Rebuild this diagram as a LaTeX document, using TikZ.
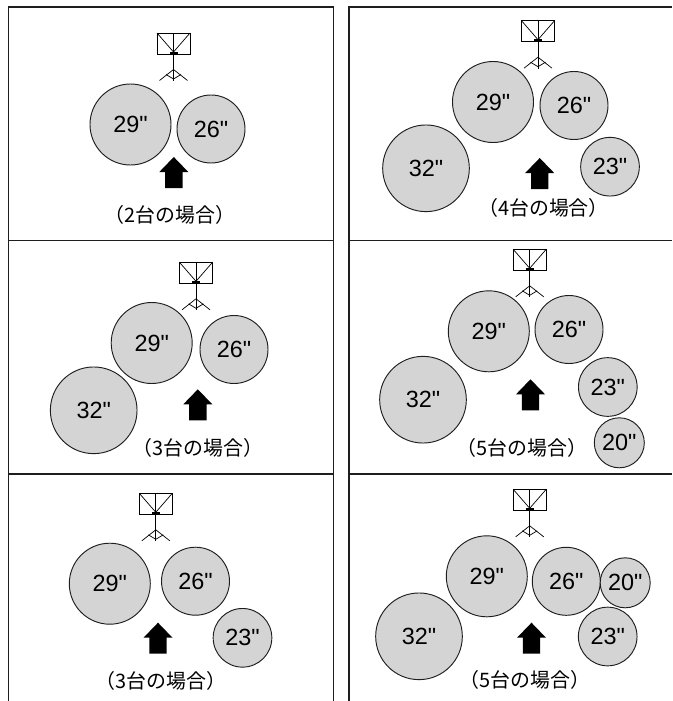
\documentclass[tikz,border=0pt]{standalone}
\usepackage{fontspec}
\newfontfamily\numfont[Ligatures=ResetAll]{Liberation Sans}
\newfontfamily\jpfont{Noto Sans CJK JP}
\usetikzlibrary{positioning}
\definecolor{drumgray}{RGB}{212,212,212}
\definecolor{inkgray}{RGB}{30,30,30}
\tikzset{
  drum/.style={circle, draw=inkgray, line width=0.8pt, fill=drumgray, inner sep=0pt,
    font=\numfont\fontsize{20}{20}\selectfont},
  d32/.style={drum, minimum size=2.6cm},
  d29/.style={drum, minimum size=2.43cm},
  d26/.style={drum, minimum size=2.04cm},
  d23/.style={drum, minimum size=1.76cm},
  d20/.style={drum, minimum size=1.5cm},
  caption/.style={inner sep=0pt, font=\jpfont\fontsize{17}{18}\selectfont},
  panel/.style={line width=1.1pt, draw=inkgray},
  stand/.pic={
    \draw[line width=0.6pt] (-16.5,0) rectangle (16.5,21);
    \draw[line width=0.6pt] (0,0) -- (0,48);
    \draw[line width=0.6pt] (-16.5,0) -- (0,19) -- (16.5,0);
    \fill (-4,18.5) rectangle (4,21.5);
    \draw[line width=0.6pt] (-14,47.5) -- (0,36.5) -- (14,47.5);
    \draw[line width=0.6pt] (-7.5,41.5) -- (0,46) -- (7.5,41.5);
  },
  fwd/.pic={
    \fill (0,0) -- (14.5,15) -- (8.7,15) -- (8.7,31) -- (-8.7,31) -- (-8.7,15) -- (-14.5,15) -- cycle;
  }
}

\begin{document}
\begin{tikzpicture}[x=0.03cm, y=-0.03cm]
\useasboundingbox (0,0) rectangle (672,701);

\draw[panel] (8.5,701) -- (8.5,7) -- (333.7,7) -- (333.7,701);
\draw[panel] (349,701) -- (349,7) -- (672,7);
\draw[panel] (8.5,240.7) -- (333.7,240.7);
\draw[panel] (8.5,474) -- (333.7,474);
\draw[panel] (349,240.7) -- (672,240.7);
\draw[panel] (349,474) -- (672,474);

% 2 drums
\pic at (173.5,33) {stand};
\node[d29] (a29) at (130.5,124.5) {29"};
\node[d26] (a26) at (211,129) {26"};
\pic at (173.8,157) {fwd};
\node[caption] (ta) at (170,215) {（2台の場合）};

% 4 drums
\pic at (538,20.7) {stand};
\node[d29] (b29) at (493,102) {29"};
\node[d26] (b26) at (574,105.5) {26"};
\node[d32] (b32) at (426,168.3) {32"};
\node[d23] (b23) at (610,166.7) {23"};
\pic at (539.7,158) {fwd};
\node[caption] (tb) at (543.5,208) {（4台の場合）};

% 3 drums, low
\pic at (196,262.3) {stand};
\node[d29] (c29) at (151.7,343) {29"};
\node[d26] (c26) at (234,349.5) {26"};
\node[d32] (c32) at (93.7,410.3) {32"};
\pic at (197.8,389.3) {fwd};
\node[caption] (tc) at (198,448.3) {（3台の場合）};

% 5 drums
\pic at (529.7,249.3) {stand};
\node[d29] (d29) at (488.8,331.3) {29"};
\node[d26] (d26) at (569,329.5) {26"};
\node[d32] (d32) at (423,399.7) {32"};
\node[d23] (d23) at (607.8,387) {23"};
\node[d20] (d20) at (619.3,442.8) {20"};
\pic at (530.5,379.3) {fwd};
\node[caption] (td) at (521.8,448.3) {（5台の場合）};

% 3 drums, high
\pic at (155.8,493.3) {stand};
\node[d29] (e29) at (109.8,583.7) {29"};
\node[d26] (e26) at (195.5,581.2) {26"};
\node[d23] (e23) at (242.5,637.8) {23"};
\pic at (158,622.7) {fwd};
\node[caption] (te) at (160.8,680.7) {（3台の場合）};

% 5 drums, high
\pic at (529.7,489.3) {stand};
\node[d29] (f29) at (486.8,576.3) {29"};
\node[d26] (f26) at (566.3,581.3) {26"};
\node[d20] (f20) at (625.2,582.8) {20"};
\node[d23] (f23) at (607.7,636.5) {23"};
\node[d32] (f32) at (419,636.3) {32"};
\pic at (531.5,622.7) {fwd};
\node[caption] (tf) at (525,680) {（5台の場合）};
\end{tikzpicture}
\end{document}
